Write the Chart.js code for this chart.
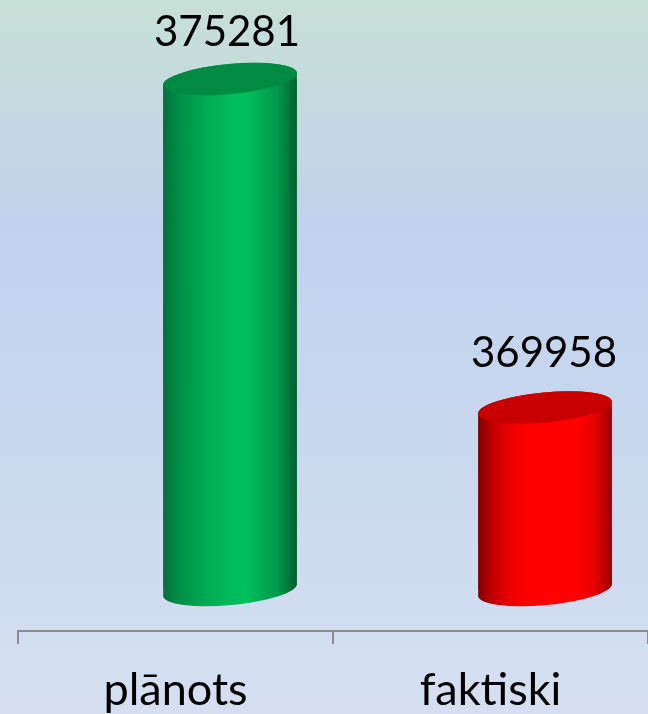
<!DOCTYPE html>
<html>
<head>
<meta charset="utf-8">
<style>
  html, body { margin: 0; padding: 0; }
  body {
    width: 648px; height: 714px; overflow: hidden;
    background: linear-gradient(180deg, #c7e0d6 0px, #c0d2ec 230px, #c5d5ee 330px, #d5dff1 714px);
  }
  canvas { display: block; }
</style>
<script src="https://cdn.jsdelivr.net/npm/chart.js@4/dist/chart.umd.js"></script>
</head>
<body>
<canvas id="cylChart" width="648" height="714"></canvas>
<script>
const labels = ['plānots', 'faktiski'];
const values = [375281, 369958];
const barBase = [367000, 367000];

const BAR_STOPS = [
  [[0, '#00703a'], [0.12, '#008f45'], [0.3, '#00a852'], [0.5, '#00bb5a'], [0.62, '#00bf5c'], [0.85, '#009a4a'], [0.95, '#00733a'], [1, '#005f2e']],
  [[0, '#800000'], [0.1, '#c00000'], [0.25, '#f00000'], [0.4, '#ff0000'], [0.72, '#ff0000'], [0.86, '#ea0000'], [0.95, '#bc0000'], [1, '#8c0000']]
];
const CAP_COLORS = ['#008a42', '#c80000'];

// the 3D bars sit to the right of their category, like in the original
const BAR_SHIFT = 54.5;
const BAR_PCT = 134 / 316;
const TILT = -0.094;
const CAP_B = 15;
const LABEL_GAP = [33, 40];
const LABEL_DX = [-3, -1];

function barGradient(ctx, x, half, i) {
  const g = ctx.createLinearGradient(x - half, 0, x + half, 0);
  BAR_STOPS[i].forEach(s => g.addColorStop(s[0], s[1]));
  return g;
}

function cylinderPath(ctx, bar) {
  const a = bar.width / 2 / Math.cos(TILT);
  ctx.moveTo(bar.x + a * Math.cos(TILT), bar.base + a * Math.sin(TILT));
  ctx.ellipse(bar.x, bar.base, a, CAP_B, TILT, 0, Math.PI);
  ctx.ellipse(bar.x, bar.y, a, CAP_B, TILT, Math.PI, Math.PI * 2);
  ctx.closePath();
}

const cylinders = {
  id: 'cylinders',
  beforeDatasetsDraw(chart) {
    const ctx = chart.ctx;
    ctx.save();
    ctx.translate(BAR_SHIFT, 0);
    const bars = chart.getDatasetMeta(0).data;
    bars.forEach((bar, i) => {
      ctx.beginPath();
      cylinderPath(ctx, bar);
      ctx.fillStyle = barGradient(ctx, bar.x, bar.width / 2, i);
      ctx.fill();
    });
    // library bars stay inside the round outline
    ctx.beginPath();
    bars.forEach(bar => cylinderPath(ctx, bar));
    ctx.clip();
  },
  afterDatasetsDraw(chart) {
    const ctx = chart.ctx;
    ctx.restore();
    ctx.save();
    ctx.translate(BAR_SHIFT, 0);
    chart.getDatasetMeta(0).data.forEach((bar, i) => {
      const a = bar.width / 2 / Math.cos(TILT);
      ctx.beginPath();
      ctx.ellipse(bar.x, bar.y, a, CAP_B, TILT, 0, Math.PI * 2);
      ctx.fillStyle = CAP_COLORS[i];
      ctx.fill();
      ctx.fillStyle = '#000000';
      ctx.font = '42px Lato';
      ctx.textAlign = 'center';
      ctx.textBaseline = 'alphabetic';
      ctx.fillText(String(values[i]), bar.x + LABEL_DX[i], bar.y - LABEL_GAP[i]);
    });
    ctx.restore();
  }
};

const config = {
  type: 'bar',
  data: {
    labels: labels,
    datasets: [{
      data: values.map((v, i) => [barBase[i], v]),
      backgroundColor(context) {
        const chart = context.chart;
        const x = chart.scales.x;
        if (!x || context.dataIndex === undefined) return BAR_STOPS[0][4][1];
        const half = x.width / labels.length * BAR_PCT / 2;
        return barGradient(chart.ctx, x.getPixelForValue(context.dataIndex), half, context.dataIndex);
      },
      borderWidth: 0,
      barPercentage: BAR_PCT,
      categoryPercentage: 1
    }]
  },
  options: {
    responsive: false,
    animation: false,
    layout: { padding: { left: 18, right: 0, top: 0, bottom: 0 } },
    plugins: { legend: false, tooltip: { enabled: false } },
    scales: {
      x: {
        offset: true,
        afterFit(scale) { scale.height = 83; },
        grid: { drawOnChartArea: false, color: '#8c8c8c', lineWidth: 2, tickLength: 13 },
        border: { color: '#8c8c8c', width: 2 },
        ticks: { color: '#000000', font: { family: 'Lato', size: 45 }, padding: 19, maxRotation: 0 }
      },
      y: {
        display: false,
        min: 366336,
        max: 376561
      }
    }
  },
  plugins: [cylinders]
};

const cylCanvas = document.getElementById('cylChart').getContext('2d');
new Chart(cylCanvas, config);
</script>
</body>
</html>
